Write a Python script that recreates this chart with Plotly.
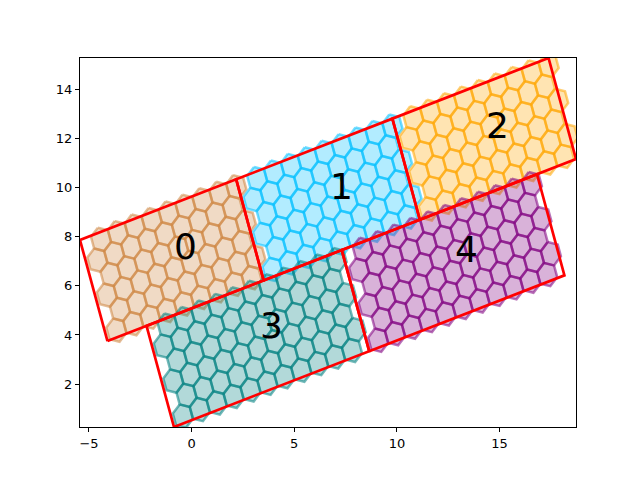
import numpy as np
import plotly.graph_objects as go

# ---- data ----
rect_labels = ["0", "1", "2", "3", "4"]
rect_u_start = [0, 8, 16, 2, 12]        # position along the long (rotated) axis
rect_lengths = [8, 8, 8, 10, 10]
rect_rows = [0, 0, 0, -1, -1]           # row index across the short axis
rect_colors = [(205, 133, 63), (0, 191, 255), (255, 165, 0), (0, 128, 128), (128, 0, 128)]
rect_width = 4.33
angle_deg = 18.0
origin = (-4.10, 3.75)
hex_radius = 0.5
hex_rows = 6
hex_u_shift = 0.55
x_ticks = [-5, 0, 5, 10, 15]
y_ticks = [2, 4, 6, 8, 10, 12, 14]

th = np.deg2rad(angle_deg)
U = np.array([np.cos(th), np.sin(th)])
V = np.array([-np.sin(th), np.cos(th)])
O = np.array(origin)


def to_xy(u, v):
    p = O + u * U + v * V
    return p[0], p[1]


fig = go.Figure()

all_x, all_y = [], []
rect_polys = []
dx = np.sqrt(3) * hex_radius
dy = 1.5 * hex_radius
for k in range(len(rect_labels)):
    u0 = rect_u_start[k]
    L = rect_lengths[k]
    v0 = rect_rows[k] * rect_width
    W = rect_width
    c = (W - (hex_rows - 1) * dy) / 2
    xs, ys = [], []
    for j in range(hex_rows):
        v = c + j * dy
        u = hex_u_shift + (dx / 2 if j % 2 else 0.0)
        while u <= L:
            cu, cv = u0 + u, v0 + v
            for a in range(7):
                ang = np.deg2rad(90 + 60 * a)
                px, py = to_xy(cu + hex_radius * np.cos(ang), cv + hex_radius * np.sin(ang))
                xs.append(px)
                ys.append(py)
            xs.append(None)
            ys.append(None)
            u += dx
    r, g, b = rect_colors[k]
    fig.add_trace(go.Scatter(
        x=xs, y=ys, mode="lines", fill="toself",
        fillcolor=f"rgba({r},{g},{b},0.3)",
        line=dict(color=f"rgba({r},{g},{b},0.55)", width=2.5),
        hoverinfo="skip", showlegend=False))
    corners = [(u0, v0), (u0 + L, v0), (u0 + L, v0 + W), (u0, v0 + W), (u0, v0)]
    cx, cy = zip(*[to_xy(a, b_) for a, b_ in corners])
    rect_polys.append((cx, cy))
    all_x += list(cx)
    all_y += list(cy)

for cx, cy in rect_polys:
    fig.add_trace(go.Scatter(x=list(cx), y=list(cy), mode="lines",
                             line=dict(color="red", width=2.7),
                             hoverinfo="skip", showlegend=False))

for k in range(len(rect_labels)):
    u0 = rect_u_start[k]
    L = rect_lengths[k]
    v0 = rect_rows[k] * rect_width
    cx, cy = to_xy(u0 + L / 2, v0 + rect_width / 2)
    fig.add_annotation(x=cx, y=cy, text=rect_labels[k], showarrow=False,
                       xanchor="left", yanchor="bottom", yshift=-9,
                       font=dict(family="DejaVu Sans", size=36, color="black"))

xmin, xmax = min(all_x), max(all_x)
ymin, ymax = min(all_y), max(all_y)

axis_common = dict(showgrid=False, zeroline=False, showline=True, linecolor="black",
                   linewidth=1, mirror=True, ticks="outside", ticklen=4,
                   tickcolor="black", tickfont=dict(family="DejaVu Sans", size=13, color="black"))
fig.update_layout(
    width=632, height=472,
    margin=dict(l=72, r=64, t=50, b=53),
    paper_bgcolor="white", plot_bgcolor="white",
    xaxis=dict(range=[xmin, xmax], tickvals=x_ticks, **axis_common),
    yaxis=dict(range=[ymin, ymax], tickvals=y_ticks, **axis_common),
)
fig.write_html("out.html")
